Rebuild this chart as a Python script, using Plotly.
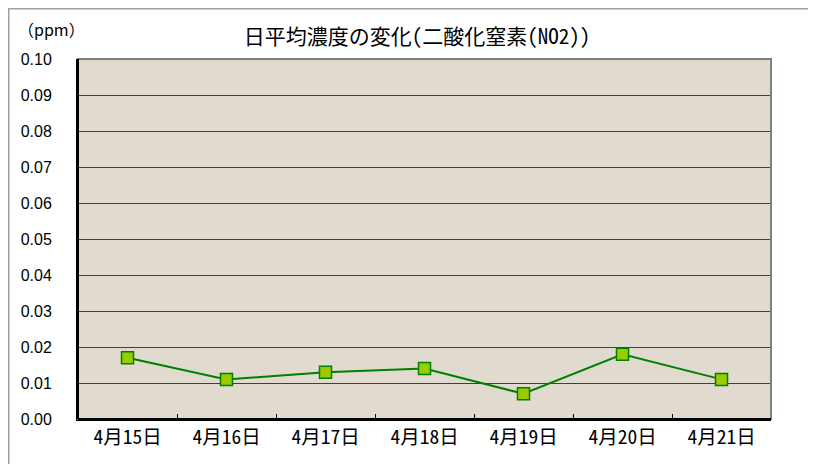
import plotly.graph_objects as go

dates = ["4月15日", "4月16日", "4月17日", "4月18日", "4月19日", "4月20日", "4月21日"]
no2_ppm = [0.017, 0.011, 0.013, 0.014, 0.007, 0.018, 0.011]
y_ticks = [0.00, 0.01, 0.02, 0.03, 0.04, 0.05, 0.06, 0.07, 0.08, 0.09, 0.10]
y_tick_labels = ["0.00", "0.01", "0.02", "0.03", "0.04", "0.05", "0.06", "0.07", "0.08", "0.09", "0.10"]

OFF = 8  # page body margin
W, H = 816 - OFF, 464 - OFF
# target plot area in page coords: x 78..771, y 59..419
L, T = 78 - OFF, 59 - OFF
R, B = W - (771 - OFF), H - (419 - OFF)
pw, ph = W - L - R, H - T - B

def px(xpage):
    return (xpage - OFF - L) / pw

def py(ypage):
    return 1 - (ypage - OFF - T) / ph

fig = go.Figure()
fig.add_trace(go.Scatter(
    x=dates, y=no2_ppm, mode="lines+markers",
    line=dict(color="#008000", width=2),
    marker=dict(symbol="square", size=12, color="#99CC00",
                line=dict(color="#008000", width=1.5)),
    showlegend=False, hoverinfo="x+y",
))

font_jp = "Noto Sans Mono CJK JP, Noto Sans CJK JP, sans-serif"
fig.update_layout(
    width=W, height=H,
    margin=dict(l=L, r=R, t=T, b=B),
    paper_bgcolor="white",
    plot_bgcolor="#E1DACE",
    title=dict(text="日平均濃度の変化(二酸化窒素(NO2))", x=px(417), xref="paper",
               xanchor="center", y=1 - (37 - OFF) / H, yanchor="middle",
               font=dict(family=font_jp, size=21, color="black")),
    xaxis=dict(type="category", showgrid=False, showline=True, linecolor="black", linewidth=2,
               ticks="inside", tickson="boundaries", ticklen=5, tickcolor="black",
               tickfont=dict(family=font_jp, size=19.5, color="black"),
               range=[-0.5, 6.5], fixedrange=True),
    yaxis=dict(range=[0, 0.1], tickvals=y_ticks, ticktext=y_tick_labels,
               showgrid=True, gridcolor="#404040", gridwidth=1,
               showline=True, linecolor="black", linewidth=2, zeroline=False,
               ticks="", ticklabelstandoff=21,
               tickfont=dict(family="Liberation Sans, Arial, sans-serif", size=16, color="black")),
    shapes=[
        dict(type="rect", xref="paper", yref="paper", x0=0, x1=1, y0=0, y1=1,
             line=dict(color="#808080", width=2), layer="above"),
        dict(type="line", xref="paper", yref="paper",
             x0=px(OFF + 0.75), x1=px(OFF + 0.75), y0=py(OFF), y1=py(470),
             line=dict(color="#A0A0A0", width=1.5), layer="below"),
        dict(type="line", xref="paper", yref="paper",
             x0=px(OFF), x1=px(813), y0=py(OFF + 0.75), y1=py(OFF + 0.75),
             line=dict(color="#A0A0A0", width=1.5), layer="below"),
        dict(type="line", xref="paper", yref="paper",
             x0=px(813), x1=px(813), y0=py(OFF), y1=py(470),
             line=dict(color="#A0A0A0", width=1.5), layer="below"),
    ],
    annotations=[dict(text="（ppm）", xref="paper", yref="paper",
                      x=px(51), y=py(29), xanchor="center", yanchor="middle",
                      showarrow=False,
                      font=dict(family="Noto Sans CJK JP, sans-serif", size=16, color="black"))],
)
fig.add_shape(type="line", xref="paper", yref="paper", x0=0, x1=0, y0=0, y1=1,
              line=dict(color="black", width=2), layer="above")
fig.add_shape(type="line", xref="paper", yref="paper", x0=0, x1=1, y0=0, y1=0,
              line=dict(color="black", width=2), layer="above")

fig.write_html("out.html")
